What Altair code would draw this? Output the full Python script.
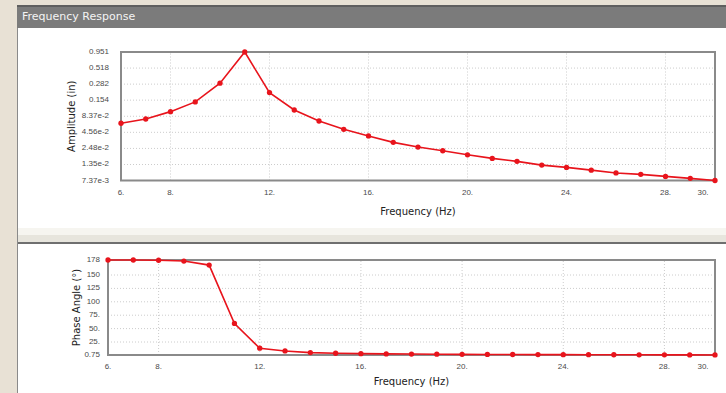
import altair as alt
import pandas as pd

# ---------------- data ----------------
freq = list(range(6, 31))
amplitude = [0.0642, 0.0755, 0.0997, 0.144, 0.293, 0.951, 0.205, 0.106, 0.070,
             0.0511, 0.0397, 0.0312, 0.0261, 0.0227, 0.0195, 0.0170, 0.0152,
             0.0132, 0.0121, 0.0109, 0.0098, 0.0093, 0.0086, 0.0080, 0.00737]
phase = [178, 178, 177.5, 176, 168.5, 59.6, 13.4, 8.3, 5.2, 4.0, 3.3, 2.8, 2.5,
         2.2, 2.0, 1.8, 1.7, 1.5, 1.4, 1.3, 1.2, 1.1, 1.0, 0.9, 0.8]

amp_ticks = [0.951, 0.518, 0.282, 0.154, 0.0837, 0.0456, 0.0248, 0.0135, 0.00737]
amp_labels = ["0.951", "0.518", "0.282", "0.154", "8.37e-2", "4.56e-2",
              "2.48e-2", "1.35e-2", "7.37e-3"]
phase_ticks = [178, 150, 125, 100, 75, 50, 25, 0.75]
phase_labels = ["178", "150", "125", "100", "75.", "50.", "25.", "0.75"]
freq_ticks = [6, 8, 12, 16, 20, 24, 28]
freq_labels = ["6.", "8.", "12.", "16.", "20.", "24.", "28."]
freq_last_tick = [30]
freq_last_label = ["30."]
freq_grid = [8, 12, 16, 20, 24, 28]

# ---------------- layout / style ----------------
W, H = 726, 393
FONT = "DejaVu Sans"
TICKFONT = "Liberation Sans"
RED = "#e8141c"
BORDER = "#8a8a8a"
GRID = "#cccccc"
LABEL = "#4a4a4a"
TITLE = "#222222"
BEIGE = "#e8e1d5"

df = pd.DataFrame({"freq": freq, "amp": amplitude, "phase": phase})


def panel(field, ytype, ydomain, ycenter, yticks, ylabels, xrange, yrange,
          ytitle, ylab_dx, ytitle_shift, xlab_dy, xtitle_dy):
    if ytype == "log":
        ys = alt.Scale(type="log", domain=ydomain, range=yrange, nice=False)
    else:
        ys = alt.Scale(domain=ydomain, range=yrange, nice=False, zero=False)
    xs = alt.Scale(domain=[6, 30], range=xrange, nice=False, zero=False)

    def X(f):
        return alt.X(f, scale=xs, axis=None)

    def Y(f):
        return alt.Y(f, scale=ys, axis=None)

    hgrid = alt.Chart(pd.DataFrame({"v": yticks[1:-1], "x0": 6, "x1": 30})).mark_rule(
        color=GRID, strokeDash=[1, 2], strokeWidth=1).encode(
        y=Y("v:Q"), x=X("x0:Q"), x2="x1:Q")
    vgrid = alt.Chart(pd.DataFrame({"f": freq_grid, "y0": ydomain[0],
                                    "y1": ydomain[1]})).mark_rule(
        color=GRID, strokeDash=[1, 2], strokeWidth=1).encode(
        x=X("f:Q"), y=Y("y0:Q"), y2="y1:Q")
    box = alt.Chart(pd.DataFrame({"x0": [6], "x1": [30], "y0": [ydomain[0]],
                                  "y1": [ydomain[1]]})).mark_rect(
        filled=False, stroke=BORDER, strokeWidth=2).encode(
        x=X("x0:Q"), x2="x1:Q", y=Y("y0:Q"), y2="y1:Q")
    line = alt.Chart(df).mark_line(color=RED, strokeWidth=1.6).encode(
        x=X("freq:Q"), y=Y(f"{field}:Q"))
    pts = alt.Chart(df).mark_circle(color=RED, size=28, opacity=1).encode(
        x=X("freq:Q"), y=Y(f"{field}:Q"))

    # y tick labels
    ylab = alt.Chart(pd.DataFrame({"v": yticks, "t": ylabels, "x0": 6})).mark_text(
        align="right", baseline="middle", dx=ylab_dx, font=TICKFONT, fontSize=8,
        color=LABEL).encode(x=X("x0:Q"), y=Y("v:Q"), text="t:N")
    # x tick labels
    xlab = alt.Chart(pd.DataFrame({"f": freq_ticks, "t": freq_labels,
                                   "y0": ydomain[0]})).mark_text(
        align="center", baseline="middle", dy=xlab_dy, font=TICKFONT, fontSize=8,
        color=LABEL).encode(x=X("f:Q"), y=Y("y0:Q"), text="t:N")
    xlab_last = alt.Chart(pd.DataFrame({"f": freq_last_tick, "t": freq_last_label,
                                        "y0": ydomain[0]})).mark_text(
        align="center", baseline="middle", dy=xlab_dy, dx=-12, font=TICKFONT,
        fontSize=8, color=LABEL).encode(x=X("f:Q"), y=Y("y0:Q"), text="t:N")
    # axis titles
    xtitle = alt.Chart(pd.DataFrame({"f": [18], "y0": [ydomain[0]],
                                     "t": ["Frequency (Hz)"]})).mark_text(
        align="center", baseline="middle", dy=xtitle_dy, font=FONT, fontSize=10,
        color=TITLE).encode(x=X("f:Q"), y=Y("y0:Q"), text="t:N")
    # rotated 270 degrees: the text's own y direction points right on screen
    ytitle_m = alt.Chart(pd.DataFrame({"f": [6], "y0": [ycenter],
                                       "t": [ytitle]})).mark_text(
        align="center", baseline="middle", angle=270, dy=ytitle_shift, font=FONT,
        fontSize=10, color=TITLE).encode(x=X("f:Q"), y=Y("y0:Q"), text="t:N")
    return alt.layer(hgrid, vgrid, box, line, pts, ylab, xlab, xlab_last,
                     xtitle, ytitle_m)


def deco_rect(x, x2, y, y2, color):
    return alt.Chart(alt.Data(values=[{"k": 1}])).mark_rect(color=color).encode(
        x=alt.value(x), x2=alt.value(x2), y=alt.value(y), y2=alt.value(y2))


decor = [
    deco_rect(17, W, 28, H, "#ffffff"),
    deco_rect(17, W, 5, 28, "#7b7b7b"),
    deco_rect(17, W, 5, 7, "#5f5f5f"),
    deco_rect(17, W, 228, 235, "#f6f5f0"),
    deco_rect(17, W, 235, 242, "#e7e5dd"),
    deco_rect(17, W, 242, 244, "#6f6f6f"),
    deco_rect(17, 18, 28, H, "#8a8a8a"),
    alt.Chart(alt.Data(values=[{"k": 1}])).mark_text(
        text="Frequency Response", align="left", baseline="middle",
        font=FONT, fontSize=11, color="#f4f4f4").encode(
        x=alt.value(22), y=alt.value(17)),
]

top = panel("amp", "log", [0.00737, 0.951], 0.0837, amp_ticks, amp_labels,
            [121, 715], [180.5, 52], "Amplitude (in)", -12, -49, 12, 31)
bottom = panel("phase", "linear", [0.75, 178], 89.4, phase_ticks, phase_labels,
               [108, 715], [355, 260], "Phase Angle (°)", -8, -31, 12, 27)

chart = alt.layer(*decor, top, bottom).resolve_scale(
    x="independent", y="independent").properties(
    width=W, height=H, padding=0, background=BEIGE,
    autosize=alt.AutoSizeParams(type="none")).configure_view(strokeWidth=0)

chart.save("out.html", embed_options={"renderer": "svg", "actions": False})
